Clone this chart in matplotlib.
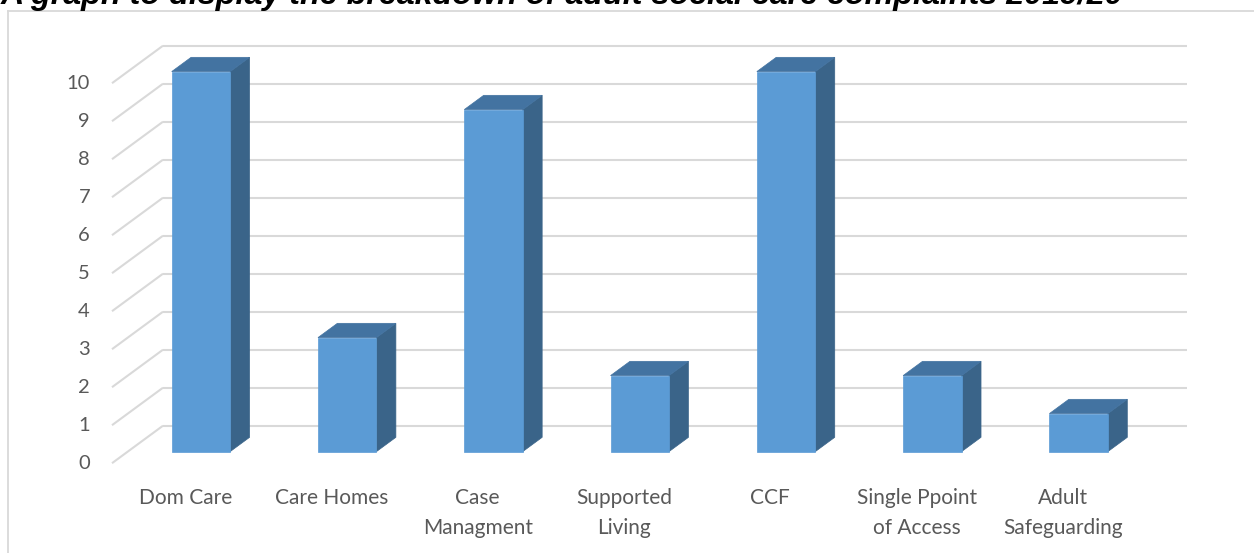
import matplotlib
matplotlib.use("Agg")
import matplotlib.pyplot as plt
from matplotlib.patches import Polygon
from matplotlib.lines import Line2D
from matplotlib.transforms import ScaledTranslation

# --- data -------------------------------------------------------------
categories = ["Dom Care", "Care Homes", "Case\nManagment", "Supported\nLiving",
              "CCF", "Single Ppoint\nof Access", "Adult\nSafeguarding"]
complaints = [10, 3, 9, 2, 10, 2, 1]
y_ticks = list(range(0, 11))
title = "A graph to display the breakdown of adult social care complaints 2019/20"

# --- style ------------------------------------------------------------
FRONT = "#5b9bd5"
TOP = "#4373a1"
SIDE = "#3a6489"
GRID = "#d9d9d9"
TEXT = "#595959"
FONT = "Lato"

W, H, DPI = 1254, 553, 100
fig = plt.figure(figsize=(W / DPI, H / DPI), dpi=DPI)

# frame around the chart area
fig.add_artist(Line2D([8 / W, 1], [1 - 10.7 / H, 1 - 10.7 / H], color=GRID, lw=1.3,
                      transform=fig.transFigure))
fig.add_artist(Line2D([8 / W, 8 / W], [0, 1 - 10.7 / H], color=GRID, lw=1.3,
                      transform=fig.transFigure))

# title (partly outside the top of the canvas)
fig.text(1 / W, 1 - 4 / H, title, ha="left", va="baseline", fontsize=23.2,
         fontweight="bold", fontstyle="italic", family="Liberation Sans",
         color="black")

# axes occupies the back wall of the 3-D box
ax = fig.add_axes([163 / W, (H - 425.7) / H, 1024 / W, 380 / H])
n = len(categories)
ax.set_xlim(0, n)
ax.set_ylim(0, 10)
ax.axis("off")

# depth offset (back -> front) expressed in data units
px_x = 1024 / n
px_y = 380 / 10
ddx = -51 / px_x
ddy = -37.5 / px_y

# gridlines: back wall + floor-side diagonals
for v in y_ticks:
    ax.plot([0, n], [v, v], color=GRID, lw=1.5, clip_on=False, zorder=1,
            solid_capstyle="butt")
    ax.plot([ddx, 0], [v + ddy, v], color=GRID, lw=1.5, clip_on=False, zorder=1,
            solid_capstyle="butt")

# value labels on the front edge
tick_tf = ax.transData + ScaledTranslation(-22 / DPI, 0, fig.dpi_scale_trans)
for v in y_ticks:
    ax.text(ddx, v + ddy, str(v), transform=tick_tf, ha="right", va="center",
            fontsize=14.5, family=FONT, color=TEXT)

# 3-D columns
half = 0.2          # half bar width (category units)
f_back, f_front = 0.31, 0.69   # depth fractions of bar faces
for i, v in enumerate(complaints):
    cx = i + 0.5
    fx, fy = f_front * ddx, f_front * ddy
    bx, by = f_back * ddx, f_back * ddy
    xl, xr = cx - half, cx + half
    front = [(xl + fx, fy), (xr + fx, fy), (xr + fx, v + fy), (xl + fx, v + fy)]
    top = [(xl + fx, v + fy), (xr + fx, v + fy), (xr + bx, v + by), (xl + bx, v + by)]
    side = [(xr + fx, fy), (xr + bx, by), (xr + bx, v + by), (xr + fx, v + fy)]
    for pts, col in ((side, SIDE), (top, TOP), (front, FRONT)):
        ax.add_patch(Polygon(pts, closed=True, facecolor=col, edgecolor=col,
                             lw=0.5, clip_on=False, zorder=3))

# category labels below the front edge
cat_tf = ax.transData + ScaledTranslation(0, -25 / DPI, fig.dpi_scale_trans)
for i, lab in enumerate(categories):
    ax.text(i + 0.5 + ddx, ddy, lab, transform=cat_tf, ha="center", va="top",
            fontsize=15, family=FONT, color=TEXT, linespacing=1.6,
            multialignment="center")

fig.savefig("out.png", dpi=DPI)
